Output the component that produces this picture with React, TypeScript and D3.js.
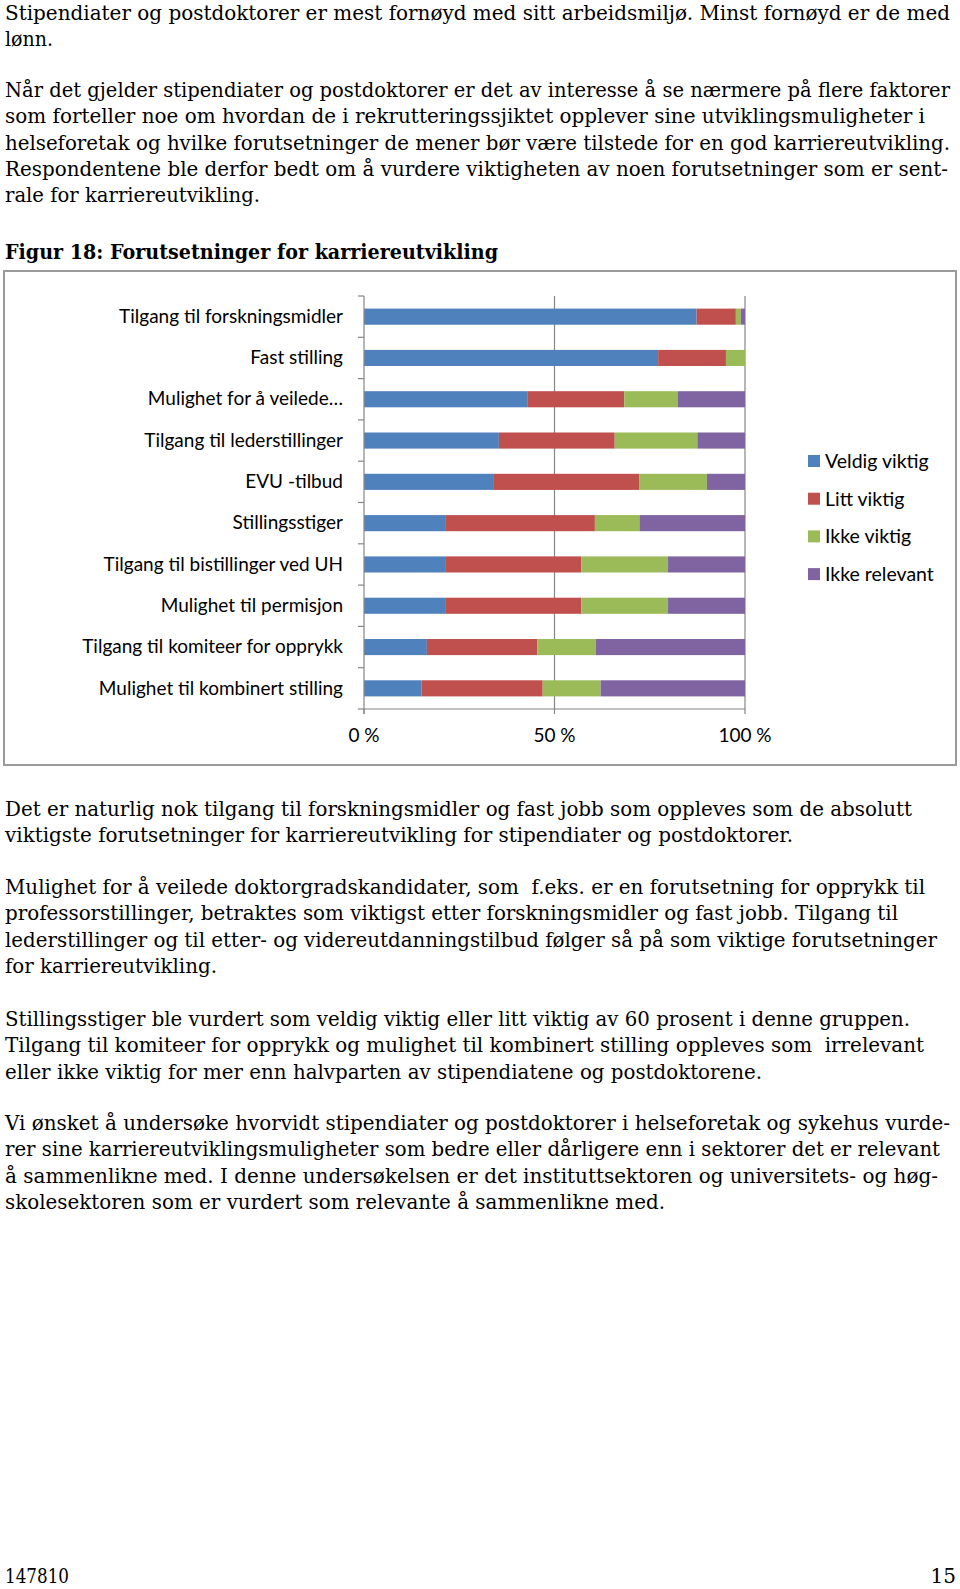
import React from "react";
import * as d3 from "d3";

const categories = [
  "Tilgang til forskningsmidler",
  "Fast stilling",
  "Mulighet for å veilede…",
  "Tilgang til lederstillinger",
  "EVU -tilbud",
  "Stillingsstiger",
  "Tilgang til bistillinger ved UH",
  "Mulighet til permisjon",
  "Tilgang til komiteer for opprykk",
  "Mulighet til kombinert stilling",
];
const seriesNames = ["Veldig viktig", "Litt viktig", "Ikke viktig", "Ikke relevant"];
const seriesColors = ["#4F81BD", "#C0504D", "#9BBB59", "#8064A2"];
const veldigViktig = [87.3, 77.2, 43.0, 35.4, 34.1, 21.5, 21.5, 21.5, 16.5, 15.1];
const littViktig = [10.3, 17.8, 25.3, 30.4, 38.1, 39.1, 35.5, 35.5, 29.0, 31.8];
const ikkeViktig = [1.3, 5.0, 14.0, 21.7, 17.8, 11.7, 22.8, 22.8, 15.3, 15.2];
const ikkeRelevant = [1.1, 0.0, 17.7, 12.5, 10.0, 27.7, 20.2, 20.2, 39.2, 37.9];
const xTicks = [0, 0.5, 1];
const xTickLabels = ["0 %", "50 %", "100 %"];

const para1 = [
  ["Stipendiater og postdoktorer er mest fornøyd med sitt arbeidsmiljø. Minst fornøyd er de med", 945],
  ["lønn.", 48],
];
const para2 = [
  ["Når det gjelder stipendiater og postdoktorer er det av interesse å se nærmere på flere faktorer", 945],
  ["som forteller noe om hvordan de i rekrutteringssjiktet opplever sine utviklingsmuligheter i", 920],
  ["helseforetak og hvilke forutsetninger de mener bør være tilstede for en god karriereutvikling.", 945],
  ["Respondentene ble derfor bedt om å vurdere viktigheten av noen forutsetninger som er sent-", 943],
  ["rale for karriereutvikling.", 255],
];
const heading = ["Figur 18: Forutsetninger for karriereutvikling", 493];
const para3 = [
  ["Det er naturlig nok tilgang til forskningsmidler og fast jobb som oppleves som de absolutt", 907],
  ["viktigste forutsetninger for karriereutvikling for stipendiater og postdoktorer.", 788],
];
const para4 = [
  ["Mulighet for å veilede doktorgradskandidater, som  f.eks. er en forutsetning for opprykk til", 920],
  ["professorstillinger, betraktes som viktigst etter forskningsmidler og fast jobb. Tilgang til", 893],
  ["lederstillinger og til etter- og videreutdanningstilbud følger så på som viktige forutsetninger", 932],
  ["for karriereutvikling.", 212],
];
const para5 = [
  ["Stillingsstiger ble vurdert som veldig viktig eller litt viktig av 60 prosent i denne gruppen.", 905],
  ["Tilgang til komiteer for opprykk og mulighet til kombinert stilling oppleves som  irrelevant", 919],
  ["eller ikke viktig for mer enn halvparten av stipendiatene og postdoktorene.", 757],
];
const para6 = [
  ["Vi ønsket å undersøke hvorvidt stipendiater og postdoktorer i helseforetak og sykehus vurde-", 945],
  ["rer sine karriereutviklingsmuligheter som bedre eller dårligere enn i sektorer det er relevant", 935],
  ["å sammenlikne med. I denne undersøkelsen er det instituttsektoren og universitets- og høg-", 933],
  ["skolesektoren som er vurdert som relevante å sammenlikne med.", 660],
];

const W = 960;
const H = 1589;
const LH = 26.35;
const serif = "'DejaVu Serif', serif";
const sans = "Lato, 'Open Sans', sans-serif";

function Para({ lines, y0, bold }: { lines: any[]; y0: number; bold?: boolean }) {
  return (
    <g>
      {lines.map((l, i) => (
        <text
          key={i}
          x={5}
          y={y0 + i * LH}
          fontFamily={serif}
          fontSize={20}
          fontWeight={bold ? "bold" : "normal"}
          fill="#000"
          textLength={l[1]}
          lengthAdjust="spacingAndGlyphs"
          style={{ whiteSpace: "pre" }}
        >
          {l[0]}
        </text>
      ))}
    </g>
  );
}

export default function App() {
  const x = d3.scaleLinear().domain([0, 1]).range([364, 745]);
  const y = d3
    .scaleBand<string>()
    .domain(categories)
    .range([296, 709])
    .paddingInner(0.61)
    .paddingOuter(0.305);

  const rows = categories.map((c, i) => ({
    cat: c,
    "Veldig viktig": veldigViktig[i],
    "Litt viktig": littViktig[i],
    "Ikke viktig": ikkeViktig[i],
    "Ikke relevant": ikkeRelevant[i],
  }));
  const stacked = d3
    .stack<any>()
    .keys(seriesNames)
    .offset(d3.stackOffsetExpand)(rows);

  const step = y.step();
  const top = y.range()[0];
  const bottom = y.range()[1];
  const boundaries = d3.range(categories.length + 1).map((i) => top + i * step);

  return (
    <>
      <style>{`body{margin:0}`}</style>
      <svg width={W} height={H} style={{ display: "block", background: "#fff" }}>
        <Para lines={para1} y0={19.5} />
        <Para lines={para2} y0={97} />
        <Para lines={[heading]} y0={259} bold />

        <rect x={4} y={271} width={952} height={494} fill="#fff" stroke="#9a9a9a" strokeWidth={2} />

        {xTicks.slice(1).map((t, i) => (
          <line key={"g" + i} x1={x(t)} x2={x(t)} y1={top} y2={bottom} stroke="#868686" strokeWidth={1.2} />
        ))}

        {stacked.map((s, si) => (
          <g key={s.key} fill={seriesColors[si]}>
            {s.map((d, di) => (
              <rect
                key={di}
                x={x(d[0])}
                y={y(categories[di])}
                width={Math.max(0, x(d[1]) - x(d[0]))}
                height={y.bandwidth()}
              />
            ))}
          </g>
        ))}

        <line x1={x(0)} x2={x(0)} y1={top} y2={bottom + 5} stroke="#868686" strokeWidth={1.2} />
        {boundaries.map((b, i) => (
          <line key={"yt" + i} x1={x(0) - 6} x2={x(0)} y1={b} y2={b} stroke="#868686" strokeWidth={1.2} />
        ))}
        <line x1={x(0)} x2={x(1)} y1={bottom} y2={bottom} stroke="#868686" strokeWidth={1.2} />
        {xTicks.map((t, i) => (
          <line key={"xt" + i} x1={x(t)} x2={x(t)} y1={bottom} y2={bottom + 5} stroke="#868686" strokeWidth={1.2} />
        ))}

        {categories.map((c) => (
          <text
            key={c}
            x={343}
            y={(y(c) as number) + y.bandwidth() / 2 - 0.5}
            dy="0.35em"
            textAnchor="end"
            fontFamily={sans}
            fontSize={19}
            fill="#000"
          >
            {c}
          </text>
        ))}

        {xTicks.map((t, i) => (
          <text key={"xl" + i} x={x(t)} y={735} dy="0.35em" textAnchor="middle" fontFamily={sans} fontSize={19} fill="#000">
            {xTickLabels[i]}
          </text>
        ))}

        {seriesNames.map((n, i) => (
          <g key={n} transform={`translate(808, ${461 + i * 37.7})`}>
            <rect x={0} y={-6} width={12} height={12} fill={seriesColors[i]} />
            <text x={17} y={0} dy="0.35em" fontFamily={sans} fontSize={19.5} fill="#000">
              {n}
            </text>
          </g>
        ))}

        <Para lines={para3} y0={816} />
        <Para lines={para4} y0={894} />
        <Para lines={para5} y0={1026} />
        <Para lines={para6} y0={1130} />

        <text x={5} y={1583} fontFamily={serif} fontSize={20} textLength={64} lengthAdjust="spacingAndGlyphs">147810</text>
        <text x={956} y={1583} fontFamily={serif} fontSize={20} textAnchor="end">15</text>
      </svg>
    </>
  );
}
